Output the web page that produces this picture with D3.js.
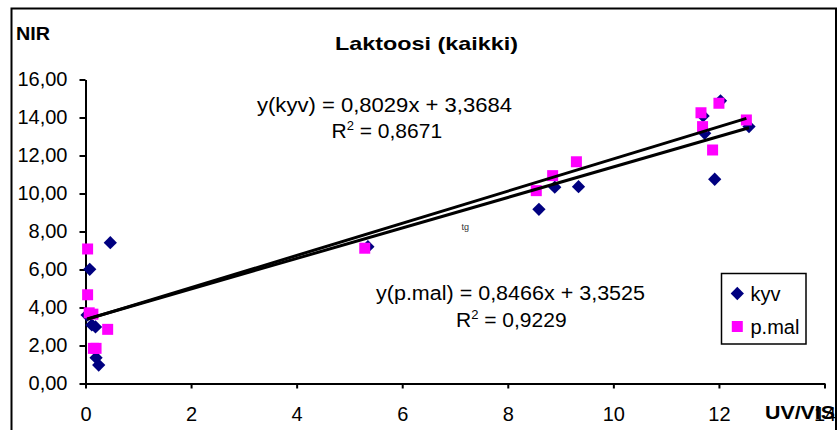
<!DOCTYPE html>
<html>
<head>
<meta charset="utf-8">
<script src="https://cdn.jsdelivr.net/npm/d3@7"></script>
<style>
  html, body { margin: 0; padding: 0; background: #fff; }
  svg { display: block; font-family: "Liberation Sans", Arial, sans-serif; }
</style>
</head>
<body>
<svg id="chart" width="838" height="430"></svg>
<script>
// ---- data ----
const kyvX = [0.47, 0.08, 0.03, 0.12, 0.19, 0.20, 0.25, 5.35, 8.59, 8.89, 9.34, 12.03, 11.70, 11.73, 12.57, 11.92];
const kyvY = [7.41, 6.01, 3.60, 3.08, 2.98, 1.36, 0.97, 7.20, 9.17, 10.33, 10.36, 14.88, 14.08, 13.17, 13.52, 10.75];
const pmalX = [0.04, 0.04, 0.07, 0.14, 0.42, 0.15, 0.20, 5.29, 8.54, 8.85, 9.30, 12.00, 11.66, 11.69, 12.52, 11.88];
const pmalY = [7.08, 4.67, 3.72, 3.65, 2.85, 1.85, 1.85, 7.12, 10.15, 10.94, 11.67, 14.75, 14.25, 13.52, 13.87, 12.29];
const kyvFit = { slope: 0.8029, intercept: 3.3684, r2: "0,8671" };
const pmalFit = { slope: 0.8466, intercept: 3.3525, r2: "0,9229" };
const xTicks = [0, 2, 4, 6, 8, 10, 12, 14];
const yTicks = [0, 2, 4, 6, 8, 10, 12, 14, 16];
const seriesNames = ["kyv", "p.mal"];
const title = "Laktoosi (kaikki)";
const yTitle = "NIR";
const xTitle = "UV/VIS";

const svg = d3.select("#chart");
const navy = "#000080", magenta = "#FF00FF";

const x = d3.scaleLinear().domain([0, 14]).range([85.5, 824.5]);
const y = d3.scaleLinear().domain([0, 16]).range([383.5, 79.5]);

// outer border
svg.append("rect").attr("x", 11.5).attr("y", 8.5).attr("width", 824.5).attr("height", 440)
  .attr("fill", "#fff").attr("stroke", "#000").attr("stroke-width", 2);

const fmt = d => d.toFixed(2).replace(".", ",");

// y axis
const gy = svg.append("g").attr("transform", "translate(85.5,0)")
  .call(d3.axisLeft(y).tickValues(yTicks).tickFormat(fmt).tickSize(6).tickSizeOuter(0).tickPadding(12));
// x axis
const gx = svg.append("g").attr("transform", "translate(0,383.5)")
  .call(d3.axisBottom(x).tickValues(xTicks).tickFormat(d => String(d)).tickSize(5).tickSizeOuter(0).tickPadding(18));
[gx, gy].forEach(g => {
  g.select(".domain").attr("stroke", "#000").attr("stroke-width", 2);
  g.selectAll(".tick line").attr("stroke", "#000").attr("stroke-width", 2);
  g.selectAll(".tick text").attr("fill", "#000").attr("font-size", 20)
    .attr("font-family", "Liberation Sans, Arial, sans-serif");
});

// points
const kyvPts = kyvX.map((v, i) => [v, kyvY[i]]);
const pmalPts = pmalX.map((v, i) => [v, pmalY[i]]);
const diamond = d3.symbol().type(d3.symbolSquare).size(88);
const square = d3.symbol().type(d3.symbolSquare).size(121);

svg.append("g").selectAll("path").data(kyvPts).join("path")
  .attr("d", diamond)
  .attr("transform", d => `translate(${x(d[0])},${y(d[1])}) rotate(45)`)
  .attr("fill", navy);
svg.append("g").selectAll("path").data(pmalPts).join("path")
  .attr("d", square)
  .attr("transform", d => `translate(${x(d[0])},${y(d[1])})`)
  .attr("fill", magenta);

// trend lines
function trend(fit, xs) {
  const [a, b] = d3.extent(xs);
  return [[a, fit.slope * a + fit.intercept], [b, fit.slope * b + fit.intercept]];
}
const line = d3.line().x(d => x(d[0])).y(d => y(d[1]));
[trend(kyvFit, kyvX), trend(pmalFit, pmalX)].forEach(seg => {
  svg.append("path").attr("d", line(seg)).attr("stroke", "#000").attr("stroke-width", 3)
    .attr("fill", "none");
});

// texts
svg.append("text").attr("x", 16).attr("y", 40).attr("font-size", 18).attr("font-weight", "bold")
  .attr("textLength", 34).attr("lengthAdjust", "spacingAndGlyphs").text(yTitle);
svg.append("text").attr("x", 335).attr("y", 50).attr("font-size", 19).attr("font-weight", "bold")
  .attr("textLength", 183).attr("lengthAdjust", "spacingAndGlyphs").text(title);
svg.append("text").attr("x", 765).attr("y", 418.5).attr("font-size", 18).attr("font-weight", "bold")
  .attr("textLength", 70).attr("lengthAdjust", "spacingAndGlyphs").text(xTitle);

const eqFmt = v => v.toFixed(4).replace(".", ",");
function equation(name, fit, x0, base, width, rx, rbase) {
  svg.append("text").attr("x", x0).attr("y", base).attr("font-size", 20)
    .attr("textLength", width).attr("lengthAdjust", "spacingAndGlyphs")
    .text(`y(${name}) = ${eqFmt(fit.slope)}x + ${eqFmt(fit.intercept)}`);
  const t = svg.append("text").attr("x", rx).attr("y", rbase).attr("font-size", 21);
  t.append("tspan").text("R");
  t.append("tspan").attr("font-size", 13).attr("dy", -8).text("2");
  t.append("tspan").attr("dy", 8).text(` = ${fit.r2}`);
}
equation(seriesNames[0], kyvFit, 257, 111.5, 255, 331.5, 138.3);
equation(seriesNames[1], pmalFit, 376, 300, 269, 456, 326.7);

svg.append("text").attr("x", 461.5).attr("y", 230).attr("font-size", 9).attr("fill", "#333").text("tg");

// legend
svg.append("rect").attr("x", 721.5).attr("y", 273.5).attr("width", 84.5).attr("height", 70.5)
  .attr("fill", "#fff").attr("stroke", "#000").attr("stroke-width", 1.5);
const leg = [
  { name: seriesNames[0], color: navy, sym: diamond, rot: 45, cy: 293.5 },
  { name: seriesNames[1], color: magenta, sym: square, rot: 0, cy: 326.5 }
];
leg.forEach(l => {
  svg.append("path").attr("d", l.sym).attr("fill", l.color)
    .attr("transform", `translate(737.3,${l.cy}) rotate(${l.rot})`);
  svg.append("text").attr("x", 750.5).attr("y", l.cy + 7).attr("font-size", 20).text(l.name);
});
</script>
</body>
</html>
